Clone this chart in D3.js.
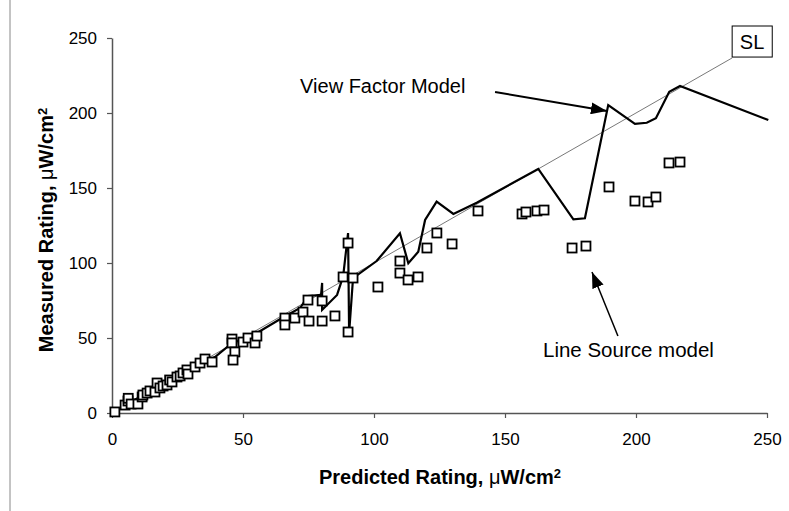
<!DOCTYPE html>
<html>
<head>
<meta charset="utf-8">
<script src="https://cdn.jsdelivr.net/npm/d3@7"></script>
<style>
  body { margin: 0; background: #fff; }
  svg { font-family: "Liberation Sans", Arial, sans-serif; }
</style>
</head>
<body>
<div id="chart"></div>
<script>
'use strict';
// tick values for both axes
const xTicks = [0, 50, 100, 150, 200, 250];
const yTicks = [0, 50, 100, 150, 200, 250];

// measured points (predicted rating, measured rating)
const ptsX = [1.1, 5.0, 6.1, 6.2, 7.3, 9.9, 11.5, 11.8, 13.4, 14.5, 16.4, 17.2, 18.3, 19.5, 21.0, 22.0,
    22.9, 24.8, 26.0, 27.1, 28.6, 29.0, 31.7, 33.6, 35.5, 38.2, 45.8, 45.8, 46.9, 46.2, 50.0, 51.9,
    54.6, 55.3, 66.0, 66.0, 69.8, 72.9, 74.8, 80.2, 75.2, 80.2, 85.1, 88.2, 92.0, 90.1, 90.1,
    101.5, 109.9, 109.9, 113.0, 116.8, 120.2, 124.0, 129.8, 139.7, 156.5, 158.0, 162.2, 164.9,
    175.6, 180.9, 189.7, 199.6, 204.6, 207.6, 212.6, 216.8];
const ptsY = [0.7, 5.3, 8.0, 9.8, 6.0, 6.0, 10.7, 12.0, 13.3, 14.7, 14.0, 20.0, 16.7, 18.0, 18.7, 22.0,
    20.7, 24.0, 24.7, 26.7, 28.7, 26.0, 30.7, 33.3, 36.0, 34.0, 49.3, 46.7, 40.7, 35.3, 47.3, 50.0,
    46.7, 51.3, 63.3, 58.7, 63.3, 67.3, 75.3, 74.7, 61.3, 61.3, 64.7, 90.7, 90.0, 113.3, 54.0,
    84.0, 101.3, 93.3, 88.7, 90.7, 110.0, 120.0, 112.7, 134.7, 132.7, 134.0, 134.7, 135.3,
    110.0, 111.3, 150.7, 141.3, 140.7, 144.0, 166.7, 167.3];

// view factor model line
const vfX = [0.8, 14.5, 29.8, 39.3, 45.4, 55.3, 64.9, 71.8, 74.8, 79.8, 80.2, 80.2, 85.9, 87.4, 88.2,
    90.1, 90.5, 92.0, 101.0, 109.9, 113.1, 116.9, 119.5, 123.9, 130.3, 139.2, 162.7, 176.1, 180.5,
    189.4, 199.6, 204.1, 207.6, 212.7, 216.8, 250.5];
const vfY = [0.7, 14.7, 29.3, 37.3, 46.0, 53.3, 63.3, 70.0, 78.0, 78.7, 86.7, 68.7, 78.7, 86.7, 90.7,
    120.0, 53.3, 90.0, 101.3, 119.8, 99.8, 107.5, 128.7, 140.9, 132.7, 140.2, 162.7, 129.1, 129.8,
    205.3, 192.7, 193.5, 196.5, 214.2, 218.0, 195.3];

const W = 789, H = 511;
const x = d3.scaleLinear().domain([0, 250]).range([112, 767]);
const y = d3.scaleLinear().domain([0, 250]).range([413, 38]);

const svg = d3.select("#chart").append("svg")
    .attr("width", W)
    .attr("height", H);

// thin frame line at the far left
svg.append("line")
    .attr("x1", 10).attr("x2", 10)
    .attr("y1", 0).attr("y2", H)
    .attr("stroke", "#888")
    .attr("stroke-width", 1);

const defs = svg.append("defs");
defs.append("marker")
    .attr("id", "head")
    .attr("markerUnits", "userSpaceOnUse")
    .attr("viewBox", "0 0 16 12")
    .attr("refX", 16).attr("refY", 6)
    .attr("markerWidth", 16).attr("markerHeight", 12)
    .attr("orient", "auto")
    .append("path")
    .attr("d", "M0,0 L16,6 L0,12 Z")
    .attr("fill", "#000");

// axes
const xAxis = svg.append("g")
    .attr("transform", "translate(0," + y(0) + ")")
    .call(d3.axisBottom(x).tickValues(xTicks).tickSize(5).tickSizeOuter(0).tickPadding(15));
const yAxis = svg.append("g")
    .attr("transform", "translate(" + x(0) + ",0)")
    .call(d3.axisLeft(y).tickValues(yTicks).tickSize(5).tickSizeOuter(0).tickPadding(10));
[xAxis, yAxis].forEach(function(g) {
    g.select(".domain").attr("stroke", "#555").attr("stroke-width", 1.5);
    g.selectAll(".tick line").attr("stroke", "#555").attr("stroke-width", 1.2);
    g.selectAll(".tick text")
        .attr("fill", "#000")
        .style("font-size", "17px")
        .style("font-family", "'Liberation Sans', Arial, sans-serif");
});

// straight line y = x ending at the SL box
svg.append("line")
    .attr("x1", x(0)).attr("y1", y(0))
    .attr("x2", x(236.7)).attr("y2", y(236.7))
    .attr("stroke", "#555")
    .attr("stroke-width", 0.8);

// view factor model
const vfData = vfX.map(function(d, i) { return {x: d, y: vfY[i]}; });
svg.append("path")
    .datum(vfData)
    .attr("fill", "none")
    .attr("stroke", "#000")
    .attr("stroke-width", 2.2)
    .attr("stroke-linejoin", "miter")
    .attr("d", d3.line().x(function(d) { return x(d.x); }).y(function(d) { return y(d.y); }));

// measured squares
const pts = ptsX.map(function(d, i) { return {x: d, y: ptsY[i]}; });
svg.append("g").selectAll("rect")
    .data(pts)
    .enter().append("rect")
    .attr("x", function(d) { return x(d.x) - 4.5; })
    .attr("y", function(d) { return y(d.y) - 4.5; })
    .attr("width", 9)
    .attr("height", 9)
    .attr("fill", "#fff")
    .attr("stroke", "#000")
    .attr("stroke-width", 1.8);

// SL label box
svg.append("rect")
    .attr("x", x(236.7)).attr("y", y(258))
    .attr("width", x(252) - x(236.7)).attr("height", y(237.3) - y(258))
    .attr("fill", "#fff")
    .attr("stroke", "#000")
    .attr("stroke-width", 1);
svg.append("text")
    .attr("x", x(244.3)).attr("y", y(247.5))
    .attr("dy", "0.35em")
    .attr("text-anchor", "middle")
    .style("font-size", "20px")
    .text("SL");

// annotations
svg.append("text")
    .attr("x", x(71.8)).attr("y", y(218))
    .attr("dy", "0.35em")
    .style("font-size", "20px")
    .text("View Factor Model");
svg.append("line")
    .attr("x1", x(146.2)).attr("y1", y(214))
    .attr("x2", x(188.9)).attr("y2", y(201.3))
    .attr("stroke", "#000")
    .attr("stroke-width", 2)
    .attr("marker-end", "url(#head)");

svg.append("text")
    .attr("x", x(164.5)).attr("y", y(42))
    .attr("dy", "0.35em")
    .style("font-size", "20.5px")
    .text("Line Source model");
svg.append("line")
    .attr("x1", x(193.1)).attr("y1", y(51.3))
    .attr("x2", x(183.2)).attr("y2", y(94))
    .attr("stroke", "#000")
    .attr("stroke-width", 1.5)
    .attr("marker-end", "url(#head)");

// axis titles
const xt = svg.append("text")
    .attr("x", 440).attr("y", 477)
    .attr("dy", "0.35em")
    .attr("text-anchor", "middle")
    .style("font-size", "20px")
    .style("font-weight", "bold");
xt.append("tspan").text("Predicted Rating, ");
xt.append("tspan").style("font-weight", "normal").text("\u03bc");
xt.append("tspan").text("W/cm");
xt.append("tspan").attr("dy", "-0.5em").style("font-size", "13px").text("2");

const yt = svg.append("text")
    .attr("transform", "translate(46,230) rotate(-90)")
    .attr("dy", "0.35em")
    .attr("text-anchor", "middle")
    .style("font-size", "20px")
    .style("font-weight", "bold");
yt.append("tspan").text("Measured Rating, ");
yt.append("tspan").style("font-weight", "normal").text("\u03bc");
yt.append("tspan").text("W/cm");
yt.append("tspan").attr("dy", "-0.5em").style("font-size", "13px").text("2");
</script>
</body>
</html>
